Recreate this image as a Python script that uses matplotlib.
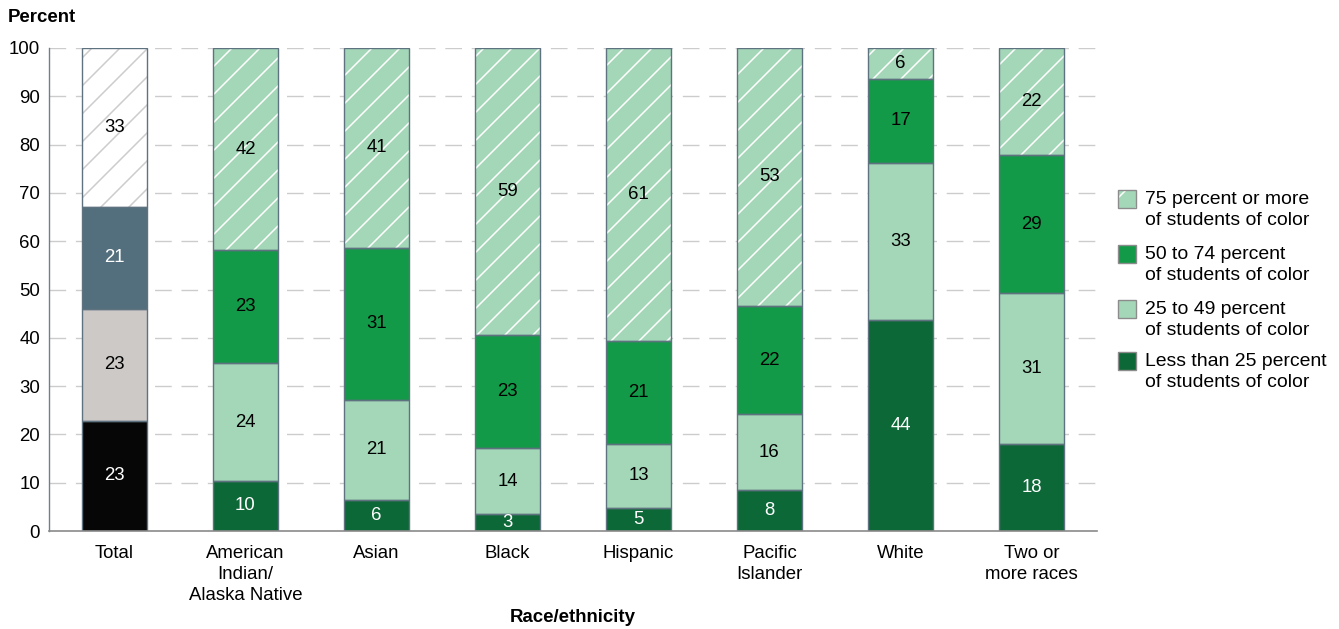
import matplotlib
matplotlib.use("Agg")
import matplotlib.pyplot as plt
from matplotlib.patches import Rectangle
import numpy as np

DPI = 84
F = 100 / DPI  # point scale so sizes read as at 100 dpi

plt.rcParams['font.family'] = ['Liberation Sans', 'DejaVu Sans']
plt.rcParams['hatch.linewidth'] = 1.1 * F

categories = ["Total", "American\nIndian/\nAlaska Native", "Asian", "Black",
              "Hispanic", "Pacific\nIslander", "White", "Two or\nmore races"]

# Percent of teachers by share of students of color in their school
less_than_25 = [22.8, 10.4, 6.4, 3.45, 4.8, 8.4, 43.6, 18.0]
pct_25_to_49 = [23.2, 24.3, 20.8, 13.8, 13.2, 15.8, 32.6, 31.2]
pct_50_to_74 = [21.1, 23.4, 31.4, 23.4, 21.4, 22.4, 17.4, 28.6]
pct_75_plus = [32.9, 41.9, 41.4, 59.35, 60.6, 53.4, 6.4, 22.2]

legend_labels = ["75 percent or more\nof students of color",
                 "50 to 74 percent\nof students of color",
                 "25 to 49 percent\nof students of color",
                 "Less than 25 percent\nof students of color"]

yticks = list(range(0, 101, 10))

dark_green = "#0d6837"
mid_green = "#139a48"
light_green = "#a3d7b8"
edge = "#5f7280"

# Total bar uses a neutral palette
total_colors = ["#060606", "#cdc9c6", "#536f7d", "#ffffff"]
total_text = ["white", "black", "white", "black"]
group_colors = [dark_green, light_green, mid_green, light_green]
group_text = ["white", "black", "black", "black"]

FS = 13.4 * F
FS_LEG = 14 * F

W, H = 1339, 629
fig = plt.figure(figsize=(W / DPI, H / DPI), dpi=DPI)
ax = fig.add_axes([49 / W, 1 - 531 / H, (1097 - 49) / W, (531 - 48) / H])

x = np.arange(len(categories))
width = 0.5
series = [less_than_25, pct_25_to_49, pct_50_to_74, pct_75_plus]

bottoms = np.zeros(len(categories))
for si, vals in enumerate(series):
    vals = np.array(vals)
    for i in range(len(categories)):
        if i == 0:
            fc = total_colors[si]
            tc = total_text[si]
            hc = "#cccccc"
        else:
            fc = group_colors[si]
            tc = group_text[si]
            hc = "white"
        if si == 3:
            ax.bar(x[i], vals[i], width, bottom=bottoms[i], color=fc,
                   edgecolor=hc, linewidth=0, hatch="/", zorder=2)
        else:
            ax.bar(x[i], vals[i], width, bottom=bottoms[i], color=fc,
                   linewidth=0, zorder=2)
        ax.bar(x[i], vals[i], width, bottom=bottoms[i], fill=False,
               edgecolor=edge, linewidth=1.0 * F, zorder=3)
        ax.text(x[i], bottoms[i] + vals[i] / 2, f"{round(vals[i]):d}",
                ha="center", va="center", fontsize=FS, color=tc, zorder=4)
    bottoms += vals

ax.set_xlim(-0.5, len(categories) - 0.5)
ax.set_ylim(0, 100)
ax.set_yticks(yticks)
ax.set_yticklabels([str(t) for t in yticks], fontsize=FS)
ax.set_xticks(x)
ax.set_xticklabels(categories, fontsize=FS, linespacing=1.3)
ax.tick_params(axis="both", length=0)
ax.tick_params(axis="y", pad=6.5 * F)
ax.tick_params(axis="x", pad=10.0 * F)

for t in yticks[1:]:
    ax.axhline(t, color="#cccccc", linewidth=1.0 * F, dashes=(12, 7),
               zorder=1)

for s in ["top", "right"]:
    ax.spines[s].set_visible(False)
ax.spines["left"].set_color("#6d808c")
ax.spines["bottom"].set_color("#8a8a8a")
ax.spines["left"].set_linewidth(1.0 * F)
ax.spines["bottom"].set_linewidth(1.2 * F)
ax.spines["bottom"].set_zorder(5)

fig.text(8 / W, 1 - 17 / H, "Percent", fontsize=FS, fontweight="bold",
         ha="left", va="center")
fig.text(573 / W, 1 - 617 / H, "Race/ethnicity", fontsize=FS,
         fontweight="bold", ha="center", va="center")

# Legend drawn in figure pixel coordinates
leg_faces = [light_green, mid_green, light_green, dark_green]
leg_hatch = ["/", None, None, None]
sq_tops = [190, 245, 300, 352]
sq = 18
for lab, fc, hz, top in zip(legend_labels, leg_faces, leg_hatch, sq_tops):
    r = Rectangle((1118 / W, 1 - (top + sq) / H), sq / W, sq / H,
                  transform=fig.transFigure, facecolor=fc,
                  edgecolor="white" if hz else fc, linewidth=0,
                  hatch=hz)
    fig.patches.append(r)
    fig.patches.append(Rectangle((1118 / W, 1 - (top + sq) / H), sq / W,
                                 sq / H, transform=fig.transFigure,
                                 fill=False, edgecolor="#8c8c8c",
                                 linewidth=1.0 * F))
    fig.text(1145 / W, 1 - (top + 20) / H, lab, fontsize=FS_LEG, ha="left",
             va="center", linespacing=1.3)

fig.savefig("out.png", dpi=DPI)
